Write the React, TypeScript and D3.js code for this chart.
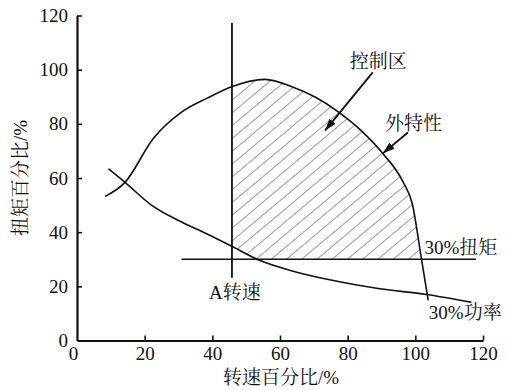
import React, { useEffect, useRef } from "react";
import * as d3 from "d3";

// 外特性 (full-load torque curve): speed %, torque %
const outerSpeed = [8.3, 14.2, 22.5, 30.9, 38.5, 45.9, 55.5, 63.9, 70.5, 76.7, 84.0, 90.5, 96.4, 99.1, 101.8, 103.8];
const outerTorque = [53.2, 58.4, 74.5, 84.3, 89.5, 93.8, 96.4, 93.5, 89.8, 84.9, 77.5, 68.9, 58.5, 50.5, 30.2, 14.8];

// 30% 功率 curve
const powerSpeed = [9.3, 14.2, 22.1, 30.0, 38.3, 45.9, 54.1, 63.9, 74.7, 89.5, 103.3, 116.6];
const powerTorque = [63.4, 58.4, 49.9, 44.3, 39.4, 34.7, 29.5, 25.6, 22.4, 19.1, 17.0, 14.1];

// reference lines
const aSpeed = 45.8;
const aSpeedRange = [23.2, 117.2];
const torque30 = 30;
const torque30Range = [30.9, 117.9];

const xTicks = [0, 20, 40, 60, 80, 100, 120];
const yTicks = [0, 20, 40, 60, 80, 100, 120];

// annotations [x, y] in data units
const labels = [
  { text: "控制区", x: 80.6, y: 100.6 },
  { text: "外特性", x: 91.0, y: 77.8 },
  { text: "30%扭矩", x: 102.7, y: 31.9 },
  { text: "30%功率", x: 104.0, y: 7.9 },
  { text: "A转速", x: 39.0, y: 15.2 },
];
const arrows = [
  { from: [87.4, 99.0], to: [73.3, 77.5] },
  { from: [97.8, 76.8], to: [90.4, 69.1] },
];

const W = 507;
const H = 390;
const FONT = "'Liberation Serif', 'Noto Serif CJK SC', 'Noto Sans CJK SC', serif";

export default function App() {
  const ref = useRef<SVGSVGElement>(null);

  useEffect(() => {
    const svg = d3.select(ref.current);
    svg.selectAll("*").remove();

    const x = d3.scaleLinear().domain([0, 120]).range([77, 483]);
    const y = d3.scaleLinear().domain([0, 120]).range([340.5, 15.5]);

    const outer: [number, number][] = outerSpeed.map((s, i) => [s, outerTorque[i]]);
    const power: [number, number][] = powerSpeed.map((s, i) => [s, powerTorque[i]]);

    const defs = svg.append("defs");

    // diagonal "/" hatching
    const pat = defs.append("pattern")
      .attr("id", "hatch")
      .attr("patternUnits", "userSpaceOnUse")
      .attr("width", 9.8)
      .attr("height", 20)
      .attr("patternTransform", "rotate(50)");
    pat.append("line")
      .attr("x1", 0).attr("y1", 0).attr("x2", 0).attr("y2", 20)
      .attr("stroke", "#333").attr("stroke-width", 1);

    defs.append("marker")
      .attr("id", "arrow")
      .attr("viewBox", "0 0 12 8")
      .attr("refX", 12).attr("refY", 4)
      .attr("markerWidth", 12).attr("markerHeight", 8)
      .attr("markerUnits", "userSpaceOnUse")
      .attr("orient", "auto")
      .append("path")
      .attr("d", "M0,0 L12,4 L0,8 Z")
      .attr("fill", "#111");

    const underOuter = d3.area<[number, number]>()
      .x(d => x(d[0])).y0(y(0)).y1(d => y(d[1]))
      .curve(d3.curveMonotoneX);
    const abovePower = d3.area<[number, number]>()
      .x(d => x(d[0])).y0(y(120)).y1(d => y(d[1]))
      .curve(d3.curveMonotoneX);

    defs.append("clipPath").attr("id", "clipOuter")
      .append("path").attr("d", underOuter(outer));
    defs.append("clipPath").attr("id", "clipPower")
      .append("path").attr("d", abovePower(power));

    // hatched control region
    svg.append("g").attr("clip-path", "url(#clipOuter)")
      .append("g").attr("clip-path", "url(#clipPower)")
      .append("rect")
      .attr("x", x(aSpeed)).attr("y", y(120))
      .attr("width", x(120) - x(aSpeed))
      .attr("height", y(torque30) - y(120))
      .attr("fill", "url(#hatch)");

    const line = d3.line<[number, number]>()
      .x(d => x(d[0])).y(d => y(d[1]))
      .curve(d3.curveMonotoneX);

    svg.append("path").attr("d", line(outer))
      .attr("fill", "none").attr("stroke", "#111").attr("stroke-width", 1.6);
    svg.append("path").attr("d", line(power))
      .attr("fill", "none").attr("stroke", "#111").attr("stroke-width", 1.6);

    svg.append("line")
      .attr("x1", x(aSpeed)).attr("x2", x(aSpeed))
      .attr("y1", y(aSpeedRange[0])).attr("y2", y(aSpeedRange[1]))
      .attr("stroke", "#111").attr("stroke-width", 1.8);
    svg.append("line")
      .attr("x1", x(torque30Range[0])).attr("x2", x(torque30Range[1]))
      .attr("y1", y(torque30)).attr("y2", y(torque30))
      .attr("stroke", "#111").attr("stroke-width", 1.6);

    // axes with inward ticks
    const xAxis = svg.append("g")
      .attr("transform", `translate(0,${y(0)})`)
      .call(d3.axisBottom(x).tickValues(xTicks).tickSize(-5).tickSizeOuter(0).tickPadding(6));
    const yAxis = svg.append("g")
      .attr("transform", `translate(${x(0)},0)`)
      .call(d3.axisLeft(y).tickValues(yTicks).tickSize(-5).tickSizeOuter(0).tickPadding(9));

    [xAxis, yAxis].forEach(a => {
      a.select(".domain").attr("stroke", "#111").attr("stroke-width", 2.2);
      a.selectAll(".tick line").attr("stroke", "#111").attr("stroke-width", 1.6);
      a.selectAll(".tick text")
        .attr("fill", "#111")
        .style("font-family", FONT)
        .style("font-size", "19px");
    });
    yAxis.selectAll(".tick").filter((d: any) => d === 0).select("line").remove();
    xAxis.selectAll(".tick").filter((d: any) => d === 0).select("line").remove();
    xAxis.selectAll(".tick").filter((d: any) => d === 0).select("text").attr("dx", -4);

    // axis titles
    svg.append("text")
      .attr("x", 281).attr("y", 384)
      .attr("text-anchor", "middle")
      .style("font-family", FONT).style("font-size", "19px").attr("fill", "#111")
      .text("转速百分比/%");
    svg.append("text")
      .attr("transform", "translate(27,178) rotate(-90)")
      .attr("text-anchor", "middle")
      .style("font-family", FONT).style("font-size", "19px").attr("fill", "#111")
      .text("扭矩百分比/%");

    // annotations
    svg.selectAll("text.lbl")
      .data(labels)
      .enter()
      .append("text")
      .attr("class", "lbl")
      .attr("x", d => x(d.x)).attr("y", d => y(d.y))
      .style("font-family", FONT).style("font-size", "19px").attr("fill", "#111")
      .text(d => d.text);

    svg.selectAll("line.arr")
      .data(arrows)
      .enter()
      .append("line")
      .attr("class", "arr")
      .attr("x1", d => x(d.from[0])).attr("y1", d => y(d.from[1]))
      .attr("x2", d => x(d.to[0])).attr("y2", d => y(d.to[1]))
      .attr("stroke", "#111").attr("stroke-width", 1.8)
      .attr("marker-end", "url(#arrow)");
  }, []);

  return (
    <svg ref={ref} width={W} height={H}
      style={{ position: "absolute", left: 0, top: 0, background: "#fff" }} />
  );
}
